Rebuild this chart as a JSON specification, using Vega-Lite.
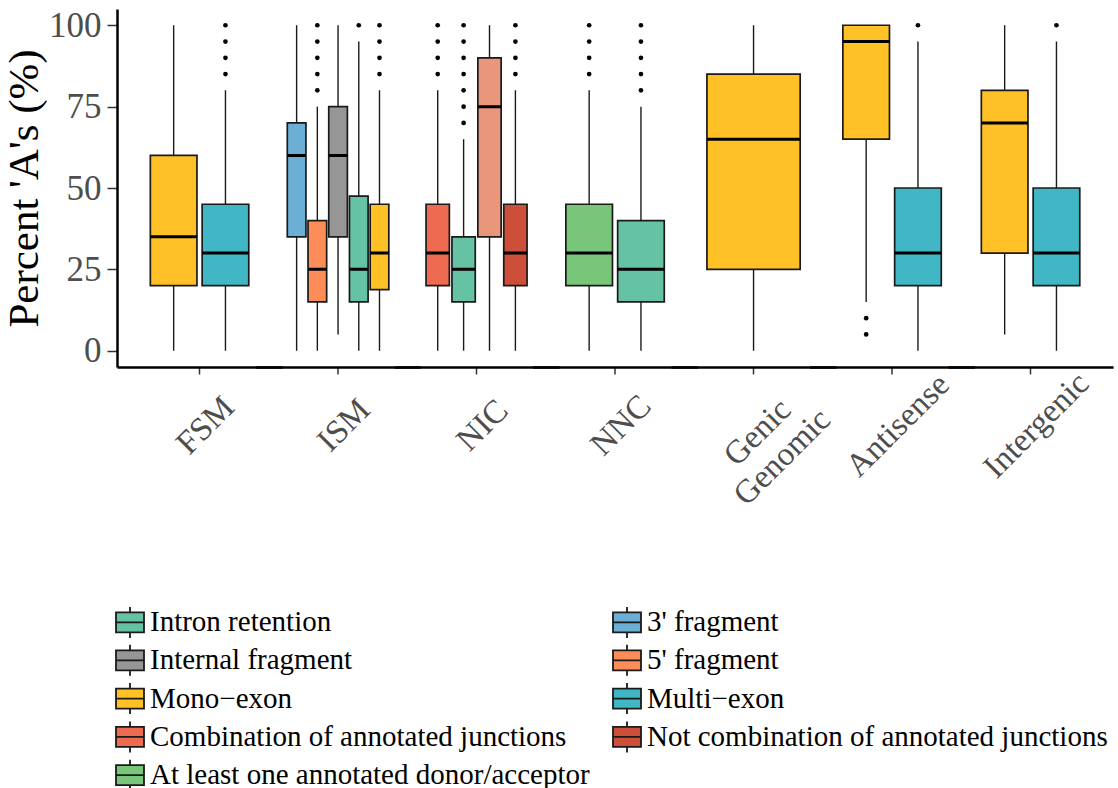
{
  "$schema": "https://vega.github.io/schema/vega-lite/v6.json",
  "background": "white",
  "padding": {"left": 3, "top": 8, "right": 0, "bottom": 0},
  "config": {
    "font": "Liberation Serif",
    "view": {"stroke": null}
  },
  "data": {
    "values": [
      {"cat": "FSM", "sub": "Mono-exon", "lo": 0, "q1": 20, "med": 35, "q3": 60, "hi": 100},
      {"cat": "FSM", "sub": "Multi-exon", "lo": 0, "q1": 20, "med": 30, "q3": 45, "hi": 80},
      {"cat": "FSM", "sub": "Multi-exon", "out": 85},
      {"cat": "FSM", "sub": "Multi-exon", "out": 90},
      {"cat": "FSM", "sub": "Multi-exon", "out": 95},
      {"cat": "FSM", "sub": "Multi-exon", "out": 100},

      {"cat": "ISM", "sub": "3' fragment", "lo": 0, "q1": 35, "med": 60, "q3": 70, "hi": 100},
      {"cat": "ISM", "sub": "5' fragment", "lo": 0, "q1": 15, "med": 25, "q3": 40, "hi": 75},
      {"cat": "ISM", "sub": "5' fragment", "out": 80},
      {"cat": "ISM", "sub": "5' fragment", "out": 85},
      {"cat": "ISM", "sub": "5' fragment", "out": 90},
      {"cat": "ISM", "sub": "5' fragment", "out": 95},
      {"cat": "ISM", "sub": "5' fragment", "out": 100},
      {"cat": "ISM", "sub": "Internal fragment", "lo": 5, "q1": 35, "med": 60, "q3": 75, "hi": 100},
      {"cat": "ISM", "sub": "Intron retention", "lo": 0, "q1": 15, "med": 25, "q3": 47.5, "hi": 95},
      {"cat": "ISM", "sub": "Intron retention", "out": 100},
      {"cat": "ISM", "sub": "Mono-exon", "lo": 0, "q1": 18.75, "med": 30, "q3": 45, "hi": 80},
      {"cat": "ISM", "sub": "Mono-exon", "out": 85},
      {"cat": "ISM", "sub": "Mono-exon", "out": 90},
      {"cat": "ISM", "sub": "Mono-exon", "out": 95},
      {"cat": "ISM", "sub": "Mono-exon", "out": 100},

      {"cat": "NIC", "sub": "Combination of annotated junctions", "lo": 0, "q1": 20, "med": 30, "q3": 45, "hi": 80},
      {"cat": "NIC", "sub": "Combination of annotated junctions", "out": 85},
      {"cat": "NIC", "sub": "Combination of annotated junctions", "out": 90},
      {"cat": "NIC", "sub": "Combination of annotated junctions", "out": 95},
      {"cat": "NIC", "sub": "Combination of annotated junctions", "out": 100},
      {"cat": "NIC", "sub": "Intron retention", "lo": 0, "q1": 15, "med": 25, "q3": 35, "hi": 65},
      {"cat": "NIC", "sub": "Intron retention", "out": 70},
      {"cat": "NIC", "sub": "Intron retention", "out": 75},
      {"cat": "NIC", "sub": "Intron retention", "out": 80},
      {"cat": "NIC", "sub": "Intron retention", "out": 85},
      {"cat": "NIC", "sub": "Intron retention", "out": 90},
      {"cat": "NIC", "sub": "Intron retention", "out": 95},
      {"cat": "NIC", "sub": "Intron retention", "out": 100},
      {"cat": "NIC", "sub": "Mono-exon by intron retention", "lo": 0, "q1": 35, "med": 75, "q3": 90, "hi": 100},
      {"cat": "NIC", "sub": "Not combination of annotated junctions", "lo": 0, "q1": 20, "med": 30, "q3": 45, "hi": 80},
      {"cat": "NIC", "sub": "Not combination of annotated junctions", "out": 85},
      {"cat": "NIC", "sub": "Not combination of annotated junctions", "out": 90},
      {"cat": "NIC", "sub": "Not combination of annotated junctions", "out": 95},
      {"cat": "NIC", "sub": "Not combination of annotated junctions", "out": 100},

      {"cat": "NNC", "sub": "At least one annotated donor/acceptor", "lo": 0, "q1": 20, "med": 30, "q3": 45, "hi": 80},
      {"cat": "NNC", "sub": "At least one annotated donor/acceptor", "out": 85},
      {"cat": "NNC", "sub": "At least one annotated donor/acceptor", "out": 90},
      {"cat": "NNC", "sub": "At least one annotated donor/acceptor", "out": 95},
      {"cat": "NNC", "sub": "At least one annotated donor/acceptor", "out": 100},
      {"cat": "NNC", "sub": "Intron retention", "lo": 0, "q1": 15, "med": 25, "q3": 40, "hi": 75},
      {"cat": "NNC", "sub": "Intron retention", "out": 80},
      {"cat": "NNC", "sub": "Intron retention", "out": 85},
      {"cat": "NNC", "sub": "Intron retention", "out": 90},
      {"cat": "NNC", "sub": "Intron retention", "out": 95},
      {"cat": "NNC", "sub": "Intron retention", "out": 100},

      {"cat": "Genic Genomic", "sub": "Mono-exon", "lo": 0, "q1": 25, "med": 65, "q3": 85, "hi": 100},

      {"cat": "Antisense", "sub": "Mono-exon", "lo": 15, "q1": 65, "med": 95, "q3": 100, "hi": 100},
      {"cat": "Antisense", "sub": "Mono-exon", "out": 5},
      {"cat": "Antisense", "sub": "Mono-exon", "out": 10},
      {"cat": "Antisense", "sub": "Multi-exon", "lo": 0, "q1": 20, "med": 30, "q3": 50, "hi": 95},
      {"cat": "Antisense", "sub": "Multi-exon", "out": 100},

      {"cat": "Intergenic", "sub": "Mono-exon", "lo": 5, "q1": 30, "med": 70, "q3": 80, "hi": 100},
      {"cat": "Intergenic", "sub": "Multi-exon", "lo": 0, "q1": 20, "med": 30, "q3": 50, "hi": 95},
      {"cat": "Intergenic", "sub": "Multi-exon", "out": 100}
    ]
  },
  "facet": {
    "column": {
      "field": "cat",
      "type": "nominal",
      "sort": ["FSM", "ISM", "NIC", "NNC", "Genic Genomic", "Antisense", "Intergenic"],
      "header": null
    }
  },
  "spacing": -27.5,
  "spec": {
    "width": 165.1,
    "height": 358,
    "encoding": {
      "x": {
        "field": "cat",
        "type": "nominal",
        "scale": {"paddingInner": 0, "paddingOuter": 0.1},
        "axis": {
          "title": null,
          "labelAngle": -45,
          "labelAlign": "center",
          "labelBaseline": "middle",
          "labelPadding": {"condition": {"test": "datum.value == 'Genic Genomic'", "value": 58}, "value": 51},
          "labelOffset": {"condition": {"test": "datum.value == 'Genic Genomic'", "value": 4}, "value": 6},
          "labelFont": "Liberation Serif",
          "labelFontSize": 33,
          "labelColor": "#4d4d4d",
          "labelOverlap": false,
          "labelLineHeight": 35,
          "labelExpr": "datum.label == 'Genic Genomic' ? ['Genic', 'Genomic'] : datum.label",
          "tickSize": 7,
          "tickWidth": 1.5,
          "tickColor": "#333333",
          "domainColor": "black",
          "domainWidth": 2.5
        }
      },
      "xOffset": {
        "field": "sub",
        "type": "nominal",
        "scale": {"range": [17.0, 120.6], "paddingInner": 0.1, "paddingOuter": 0.05}
      }
    },
    "layer": [
      {
        "transform": [{"filter": "isValid(datum.q1)"}],
        "mark": {"type": "rule", "stroke": "#1a1a1a", "strokeWidth": 1.4},
        "encoding": {
          "y": {
            "field": "lo",
            "type": "quantitative",
            "scale": {"domain": [-5, 105], "nice": false, "zero": false},
            "axis": {
              "values": [0, 25, 50, 75, 100],
              "grid": false,
              "title": "Percent 'A's (%)",
              "titleFont": "Liberation Serif",
              "titleFontSize": 43,
              "titleFontWeight": "normal",
              "titleColor": "black",
              "titlePadding": 2,
              "labelFont": "Liberation Serif",
              "labelFontSize": 35,
              "labelColor": "#4d4d4d",
              "labelPadding": 6,
              "tickSize": 10,
              "tickWidth": 1.5,
              "tickColor": "#333333",
              "domainColor": "black",
              "domainWidth": 2.5
            }
          },
          "y2": {"field": "hi"}
        }
      },
      {
        "transform": [{"filter": "isValid(datum.q1)"}],
        "mark": {"type": "bar", "stroke": "#1a1a1a", "strokeWidth": 1.7, "opacity": 1},
        "encoding": {
          "y": {"field": "q1", "type": "quantitative"},
          "y2": {"field": "q3"},
          "fill": {
            "field": "sub",
            "type": "nominal",
            "scale": {
              "domain": [
                "Intron retention", "3' fragment", "Internal fragment", "5' fragment",
                "Mono-exon", "Multi-exon", "Combination of annotated junctions",
                "Not combination of annotated junctions", "At least one annotated donor/acceptor",
                "Mono-exon by intron retention"
              ],
              "range": [
                "#66C2A5", "#6BAED6", "#969696", "#FC8D59",
                "#FFC125", "#41B6C4", "#EE6A50",
                "#CD4F39", "#78C679",
                "#E9967A"
              ]
            },
            "legend": {
              "title": null,
              "orient": "none",
              "legendX": -2,
              "legendY": 598,
              "direction": "horizontal",
              "columns": 2,
              "values": [
                "Intron retention", "3' fragment", "Internal fragment", "5' fragment",
                "Mono-exon", "Multi-exon", "Combination of annotated junctions",
                "Not combination of annotated junctions", "At least one annotated donor/acceptor"
              ],
              "labelExpr": "replace(datum.label, '-', '\u2212')",
              "symbolType": "M-1,-0.714H1V0.714H-1Z M-1,0H1 M0,-1.107V-0.714 M0,0.714V1.107",
              "symbolSize": 784,
              "symbolStrokeColor": "#1a1a1a",
              "symbolStrokeWidth": 1.8,
              "symbolOpacity": 1,
              "labelFont": "Liberation Serif",
              "labelFontSize": 29,
              "labelColor": "black",
              "labelOffset": 5,
              "labelLimit": 0,
              "rowPadding": -1.7,
              "columnPadding": 19
            }
          }
        }
      },
      {
        "transform": [{"filter": "isValid(datum.q1)"}],
        "mark": {"type": "bar", "fillOpacity": 0, "stroke": "black", "strokeWidth": 3},
        "encoding": {
          "y": {"field": "med", "type": "quantitative"},
          "y2": {"field": "med"}
        }
      },
      {
        "transform": [{"filter": "isValid(datum.out)"}],
        "mark": {"type": "circle", "color": "black", "size": 22, "opacity": 1},
        "encoding": {
          "y": {"field": "out", "type": "quantitative"}
        }
      }
    ]
  },
  "resolve": {"scale": {"x": "independent", "xOffset": "independent"}}
}
